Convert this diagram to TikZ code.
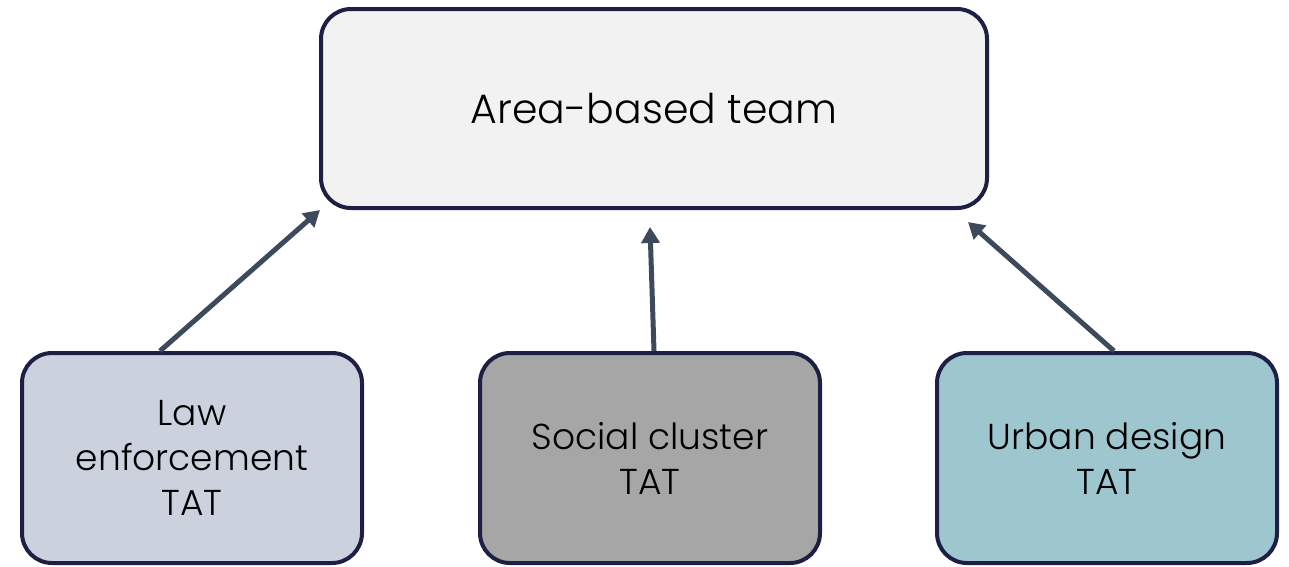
\documentclass[tikz,border=0pt]{standalone}
\usepackage{fontspec}
\setmainfont{Poppins}[UprightFont=* Light]
\usetikzlibrary{arrows.meta}
\definecolor{bordc}{HTML}{1E1F45}
\definecolor{arrc}{HTML}{3D4A5C}
\definecolor{topf}{HTML}{F2F2F2}
\definecolor{lawf}{HTML}{CBD2DE}
\definecolor{socf}{HTML}{A6A6A6}
\definecolor{urbf}{HTML}{9EC6CF}
\tikzset{
  box/.style={draw=bordc, line width=4pt, rounded corners=30pt, align=center, text=black, inner sep=0pt},
  topbox/.style={box, fill=topf, minimum width=666pt, minimum height=199pt, font=\fontsize{41}{48}\selectfont},
  subbox/.style={box, minimum width=340pt, minimum height=210pt, font=\fontsize{36}{45}\selectfont},
  conn/.style={draw=arrc, line width=5pt, -{Triangle[length=16pt,width=18pt]}},
}
\begin{document}
\begin{tikzpicture}[x=1pt,y=-1pt]
\useasboundingbox (0,0) rectangle (1289,566);
\node[topbox] (top) at (654,108.5) {Area-based team};
\node[subbox, fill=lawf] (law) at (192,458) {Law\\enforcement\\TAT};
\node[subbox, fill=socf] (soc) at (650,458) {Social cluster\\TAT};
\node[subbox, fill=urbf] (urb) at (1107,458) {Urban design\\TAT};
\coordinate (e1) at (320,210);
\coordinate (e2) at (650,227);
\coordinate (e3) at (968,222);
\coordinate (s1) at (160,351);
\coordinate (s2) at (654,351);
\coordinate (s3) at (1114,351);
\draw[conn] (s1) -- (e1);
\draw[conn] (s2) -- (e2);
\draw[conn] (s3) -- (e3);
\end{tikzpicture}
\end{document}
